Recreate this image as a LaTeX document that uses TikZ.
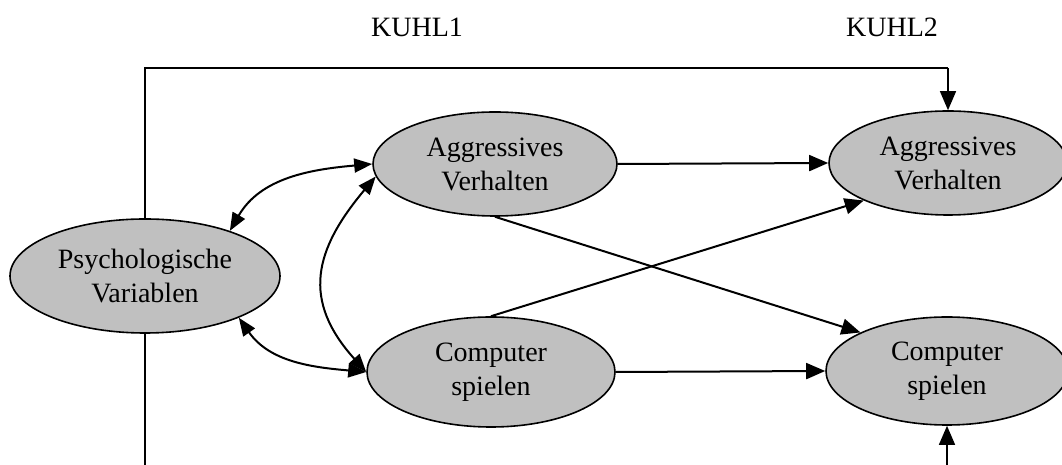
\documentclass[tikz,border=0pt]{standalone}
\usepackage{fontspec}
\setmainfont{Liberation Serif}
\usetikzlibrary{shapes.geometric,arrows.meta}
\definecolor{varfill}{HTML}{C0C0C0}
\tikzset{
  var/.style={ellipse, draw=black, line width=1.6pt, fill=varfill, inner sep=0pt,
    align=center, font=\fontsize{28}{34}\selectfont},
  pth/.style={line width=2pt, -{Triangle[length=19pt,width=16pt]}},
  cov/.style={line width=2pt, {Triangle[length=18pt,width=14pt]}-{Triangle[length=18pt,width=14pt]}},
  frame/.style={line width=1.4pt},
  wave/.style={anchor=base, font=\fontsize{28}{34}\selectfont}
}
\begin{document}
\begin{tikzpicture}[x=1pt,y=1pt]
\useasboundingbox (0,0) rectangle (1062,465);

% wave labels
\node[wave] (k1) at (417,428) {KUHL1};
\node[wave] (k2) at (892,428) {KUHL2};

% variables
\node[var, minimum width=270pt, minimum height=114pt] (psy) at (145,189) {Psychologische\\Variablen};
\node[var, minimum width=244pt, minimum height=104pt] (ag1) at (495,301) {Aggressives\\Verhalten};
\node[var, minimum width=248pt, minimum height=110pt] (cp1) at (491,93) {Computer\\spielen};
\node[var, minimum width=238pt, minimum height=104pt] (ag2) at (948,302) {Aggressives\\Verhalten};
\node[var, minimum width=242pt, minimum height=108pt] (cp2) at (947,94) {Computer\\spielen};

% helper levels for the routed control paths
\coordinate (topc) at (0,397);
\coordinate (botc) at (0,0);

% control paths
\draw[frame] (psy.north) -- (psy.north |- topc) -- (ag2.north |- topc);
\draw[pth, line width=1.4pt] (ag2.north |- topc) -- (ag2.north);
\draw[frame] (psy.south) -- (psy.south |- botc);
\draw[pth, line width=1.4pt] (cp2.south |- botc) -- (cp2.south);

% correlations at the first wave
\draw[cov] (psy.28) to[out=60, in=185] (ag1.west);
\draw[cov] (psy.-24) to[out=-55, in=175] (cp1.west);
\draw[cov] (ag1.186) to[out=230, in=132, looseness=1.26] (cp1.west);

% stability and cross-lagged paths
\draw[pth] (ag1.east) -- (ag2.west);
\draw[pth] (cp1.east) -- (cp2.west);
\draw[pth] (ag1.south) -- (cp2.156);
\draw[pth] (cp1.north) -- (ag2.204);
\end{tikzpicture}
\end{document}
